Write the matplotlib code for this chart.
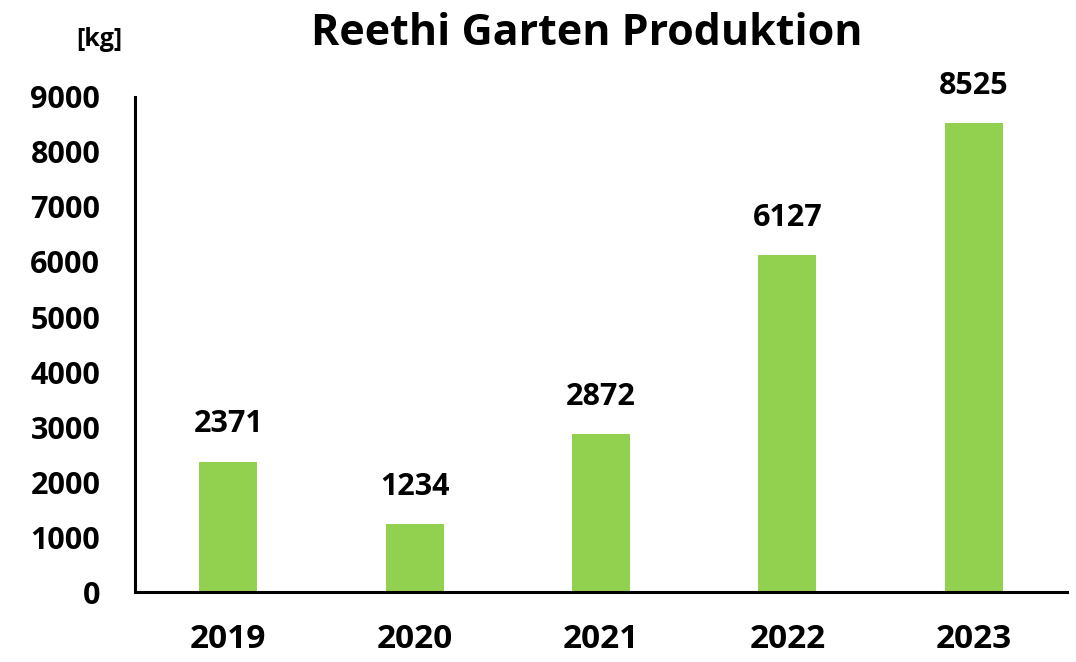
import matplotlib.pyplot as plt

years = ['2019', '2020', '2021', '2022', '2023']
production = [2371, 1234, 2872, 6127, 8525]
yticks = [0, 1000, 2000, 3000, 4000, 5000, 6000, 7000, 8000, 9000]

plt.rcParams['font.family'] = ['Open Sans', 'DejaVu Sans']

fig = plt.figure(figsize=(10.76, 6.62), dpi=100)
ax = fig.add_axes([0.1255, 0.1057, 0.8661, 0.7478])

x = range(len(years))
ax.bar(x, production, width=0.31, color='#92D050', zorder=2)
for xi, v in zip(x, production):
    ax.annotate(str(v), (xi, v), xytext=(0, 16), textcoords='offset points',
                ha='center', va='bottom', fontsize=22, fontweight='bold')

ax.set_xlim(-0.5, len(years) - 0.5)
ax.set_ylim(0, 9000)
ax.set_yticks(yticks)
ax.set_yticklabels([str(t) for t in yticks], fontsize=22, fontweight='bold')
ax.set_xticks(list(x))
ax.set_xticklabels(years, fontsize=24, fontweight='bold')
ax.tick_params(axis='y', length=0, pad=25)
ax.tick_params(axis='x', length=0, pad=22)

for s in ['top', 'right']:
    ax.spines[s].set_visible(False)
for s in ['left', 'bottom']:
    ax.spines[s].set_linewidth(2.2)
    ax.spines[s].set_color('black')

fig.text(0.545, 0.95, 'Reethi Garten Produktion', ha='center', va='center',
         fontsize=31, fontweight='bold')
fig.text(0.092, 0.94, '[kg]', ha='center', va='center', fontsize=18, fontweight='bold')

fig.savefig('out.png', dpi=100)
